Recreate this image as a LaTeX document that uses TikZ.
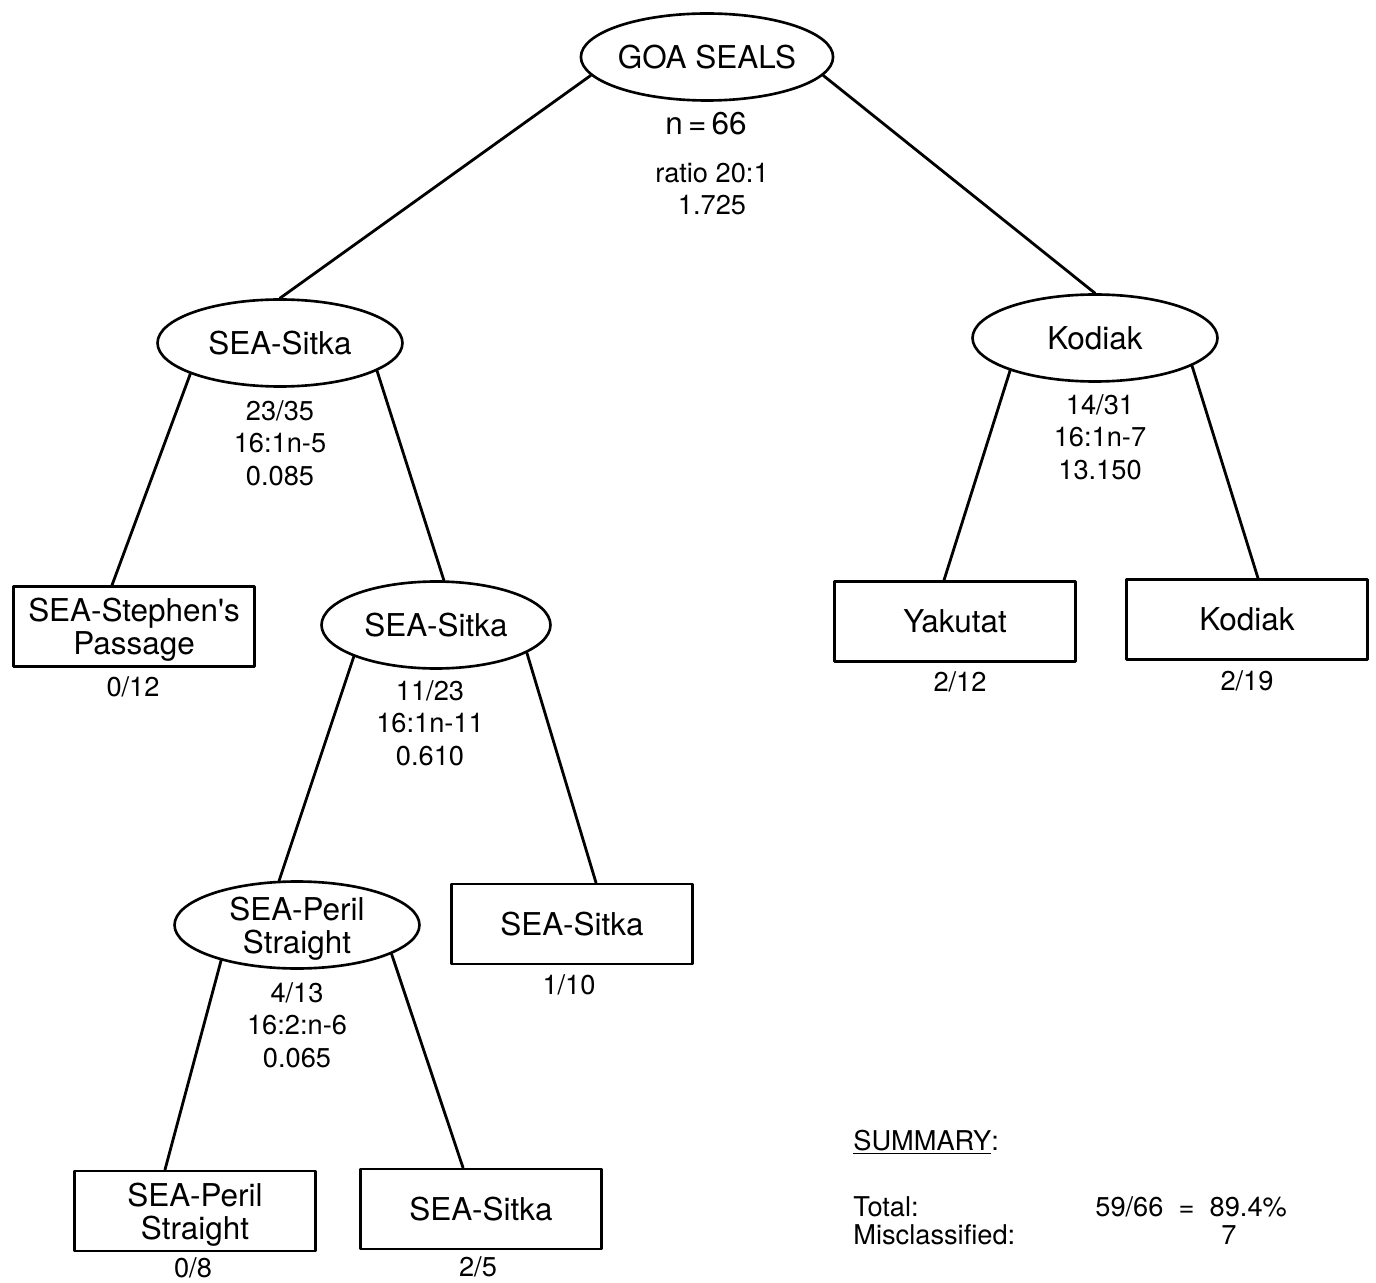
\documentclass[tikz,border=0pt]{standalone}
\usepackage{fontspec}
\setmainfont{TeX Gyre Heros}
\usetikzlibrary{calc,shapes.geometric}
\newcommand{\nodefont}{\fontsize{17.9}{18.9}\selectfont}
\newcommand{\statfont}{\fontsize{15.5}{18.6}\selectfont}
\tikzset{
  splitnode/.style={ellipse,draw,line width=1.5pt,inner sep=0pt,text depth=0pt,
    minimum width=4.9cm,minimum height=1.74cm,font=\nodefont,align=center},
  leafbox/.style={rectangle,draw,line width=1.5pt,inner sep=0pt,text depth=0pt,
    minimum width=4.82cm,minimum height=1.6cm,font=\nodefont,align=center},
  statnote/.style={font=\statfont,align=center,inner sep=0pt},
  branch/.style={line width=1.6pt}
}

\begin{document}
\begin{tikzpicture}[x=0.02cm,y=-0.02cm,line cap=round,line join=round]
    \useasboundingbox (0,0) rectangle (1376,1283);

    \node[splitnode] (goa) at (707,57) {GOA SEALS};
    \node[font=\nodefont,inner sep=0pt] (goan) at (706,124) {n\,=\,66};
    \node[statnote] (goastat) at (712,189) {ratio 20:1\\1.725};

    \node[splitnode] (sitka) at (280,343) {SEA-Sitka};
    \node[statnote] (sitkastat) at (280,443) {23/35\\16:1n-5\\0.085};
    \node[leafbox] (stephen) at (134,626.5)
      {SEA-Stephen\textquotesingle s\\Passage};
    \node[statnote] (stephencount) at (133,687) {0/12};

    \node[splitnode,minimum width=4.58cm] (sitkasub) at (436,625) {SEA-Sitka};
    \node[statnote] (sitkasubstat) at (430,723) {11/23\\16:1n-11\\0.610};
    \node[leafbox] (sitkaleaf) at (572,924) {SEA-Sitka};
    \node[statnote] (sitkaleafcount) at (569,985) {1/10};

    \node[splitnode] (peril) at (297,925) {SEA-Peril\\Straight};
    \node[statnote] (perilstat) at (297,1025) {4/13\\16:2:n-6\\0.065};
    \node[leafbox] (perilleaf) at (195,1211) {SEA-Peril\\Straight};
    \node[statnote] (perilleafcount) at (193,1268) {0/8};
    \node[leafbox] (sitkaleafb) at (481,1209) {SEA-Sitka};
    \node[statnote] (sitkaleafbcount) at (478,1267) {2/5};

    \node[splitnode] (kodiak) at (1095,338) {Kodiak};
    \node[statnote] (kodiakstat) at (1100,437) {14/31\\16:1n-7\\13.150};
    \node[leafbox] (yakutat) at (955,621.5) {Yakutat};
    \node[statnote] (yakutatcount) at (960,682) {2/12};
    \node[leafbox] (kodiakleaf) at (1247,619.5) {Kodiak};
    \node[statnote] (kodiakleafcount) at (1247,681) {2/19};

    \draw[branch] (goa.189) -- (sitka.north);
    \draw[branch] (goa.351) -- (kodiak.north);
    \draw[branch] (sitka.199) -- ($(stephen.north)+(-22,0)$);
    \draw[branch] (sitka.344) -- (sitkasub.80);
    \draw[branch] (sitkasub.201) -- (peril.112);
    \draw[branch] (sitkasub.343) -- ($(sitkaleaf.north)+(24,0)$);
    \draw[branch] (peril.205) -- ($(perilleaf.north)+(-30,0)$);
    \draw[branch] (peril.343) -- ($(sitkaleafb.north)+(-18,0)$);
    \draw[branch] (kodiak.201) -- ($(yakutat.north)+(-11,0)$);
    \draw[branch] (kodiak.344) -- ($(kodiakleaf.north)+(11,0)$);

    \node[statnote,anchor=west] (summary) at (853,1142) {\underline{SUMMARY}:};
    \node[statnote,anchor=west] (totallabel) at (853,1207) {Total:};
    \node[statnote,anchor=west] (misslabel) at (853,1235) {Misclassified:};
    \node[statnote,anchor=west] (totalvalue) at (1095,1207)
      {59/66\ \ =\ \ 89.4\%};
    \node[statnote] (missvalue) at (1229,1235) {7};
  \end{tikzpicture}
\end{document}
